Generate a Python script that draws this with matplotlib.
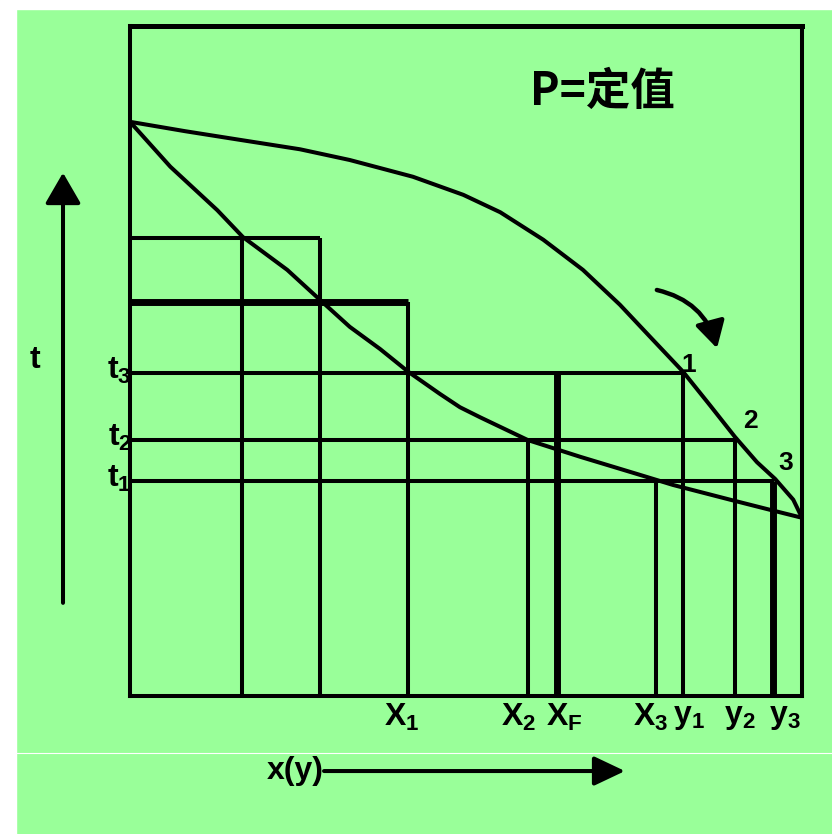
import matplotlib
matplotlib.use("Agg")
import matplotlib.pyplot as plt
from matplotlib.patches import Rectangle, FancyArrowPatch
from matplotlib.lines import Line2D

plt.rcParams['font.family'] = ['Liberation Sans', 'DejaVu Sans']
plt.rcParams['mathtext.default'] = 'regular'

GREEN = '#99ff99'
LW = 2.9        # normal stroke (pt)
LW_THICK = 5.0  # emphasised stroke

# liquid (bubble point) curve: x vs t
x_liq = [0.000, 0.060, 0.130, 0.168, 0.234, 0.283, 0.327, 0.372, 0.414,
         0.461, 0.491, 0.521, 0.592, 0.670, 0.759, 0.808, 0.893, 0.952, 1.000]
t_liq = [85.7, 79.0, 72.5, 68.5, 63.6, 59.1, 55.1, 51.8, 48.4,
         45.1, 43.1, 41.6, 38.2, 35.7, 33.0, 31.5, 29.3, 27.8, 26.6]

# vapour (dew point) curve: y vs t
x_vap = [0.000, 0.082, 0.164, 0.253, 0.327, 0.421, 0.496, 0.551, 0.615, 0.674,
         0.729, 0.774, 0.823, 0.863, 0.900, 0.933, 0.960, 0.987, 1.000]
t_vap = [85.7, 84.3, 83.0, 81.6, 80.0, 77.5, 74.8, 72.2, 68.1, 63.6,
         58.4, 53.6, 48.4, 43.4, 38.7, 34.9, 32.4, 29.3, 26.6]

# horizontal tie lines: temperature level and right end
h_levels = [68.4, 58.8, 48.2, 38.2, 32.1]
h_ends = [0.283, 0.414, 0.823, 0.900, 0.958]
h_thick = [False, True, False, False, False]

# vertical drop lines: composition and top
v_pos = [0.167, 0.283, 0.414, 0.592, 0.635, 0.783, 0.823, 0.900, 0.957]
v_tops = [68.4, 68.4, 58.8, 38.2, 48.2, 32.1, 48.2, 38.2, 32.1]
v_thick = [False, False, False, False, True, False, False, False, True]

# composition labels under the axis
comp_labels = ['$X_1$', '$X_2$', '$X_F$', '$X_3$', '$y_1$', '$y_2$', '$y_3$']
comp_pos = [0.404, 0.578, 0.646, 0.775, 0.832, 0.907, 0.974]

# temperature labels at the left
temp_labels = ['$t_3$', '$t_2$', '$t_1$']
temp_pos = [48.2, 38.2, 32.1]

# equilibrium point numbers on the dew curve
pt_labels = ['1', '2', '3']
pt_x = [0.832, 0.923, 0.976]
pt_t = [49.4, 41.0, 34.8]

fig = plt.figure(figsize=(8.32, 8.34), dpi=100, facecolor=GREEN)
fig.add_artist(Rectangle((0, 1 - 9 / 834), 1, 9 / 834, transform=fig.transFigure,
                         color='white', zorder=0))
fig.add_artist(Rectangle((0, 0), 16 / 832, 1, transform=fig.transFigure,
                         color='white', zorder=0))
fig.add_artist(Line2D([16 / 832, 1], [1 - 753 / 834] * 2, transform=fig.transFigure,
                      color='white', lw=0.8))

ax = fig.add_axes([130 / 832, 138 / 834, 672 / 832, 670 / 834])
ax.set_facecolor('none')
ax.set_xlim(0, 1)
ax.set_ylim(0, 100)
ax.set_xticks([])
ax.set_yticks([])
for side, sp in ax.spines.items():
    sp.set_linewidth(3.6 if side == 'top' else LW)
    sp.set_color('black')

ax.plot(x_liq, t_liq, color='black', lw=LW, solid_joinstyle='round')
ax.plot(x_vap, t_vap, color='black', lw=LW, solid_joinstyle='round')

for lvl, end, thick in zip(h_levels, h_ends, h_thick):
    ax.plot([0, end], [lvl, lvl], color='black', lw=LW_THICK if thick else LW,
            solid_capstyle='butt')
for xp, top, thick in zip(v_pos, v_tops, v_thick):
    ax.plot([xp, xp], [0, top], color='black', lw=LW_THICK if thick else LW,
            solid_capstyle='butt')

txt_kw = dict(color='black', fontweight='bold', clip_on=False)
for lab, xp in zip(comp_labels, comp_pos):
    ax.text(xp, -0.9, lab, ha='center', va='top', fontsize=23, **txt_kw)
for lab, tp in zip(temp_labels, temp_pos):
    ax.text(0.003, tp + 0.3, lab, ha='right', va='center', fontsize=23, **txt_kw)
for lab, xp, tp in zip(pt_labels, pt_x, pt_t):
    ax.text(xp, tp, lab, ha='center', va='center', fontsize=19, **txt_kw)

ax.text(-0.141, 50.2, 't', ha='center', va='center', fontsize=23, **txt_kw)
ax.text(0.595, 90.2, 'P=定值', ha='left', va='center', fontsize=32,
        family=['Noto Sans CJK SC', 'DejaVu Sans'], color='black',
        fontweight='bold')

# t axis arrow (left) and x(y) arrow (bottom)
ax.add_patch(FancyArrowPatch((-0.0997, 13.9), (-0.0997, 78.1),
                             arrowstyle='-|>,head_length=0.95,head_width=0.55',
                             mutation_scale=20, lw=LW, color='black',
                             shrinkA=0, shrinkB=0, clip_on=False))
ax.add_patch(FancyArrowPatch((0.2887, -11.2), (0.7366, -11.2),
                             arrowstyle='-|>,head_length=0.95,head_width=0.45',
                             mutation_scale=20, lw=LW, color='black',
                             shrinkA=0, shrinkB=0, clip_on=False))
ax.text(0.2887, -11.2, 'x(y)', ha='right', va='center', fontsize=23, **txt_kw)

# curved arrow showing the heating direction
ax.add_patch(FancyArrowPatch((0.784, 60.6), (0.8735, 51.9),
                             connectionstyle='arc3,rad=-0.3',
                             arrowstyle='-|>,head_length=0.8,head_width=0.45',
                             mutation_scale=20, lw=3.2, color='black',
                             shrinkA=0, shrinkB=0))

fig.savefig('out.png', dpi=100, facecolor=GREEN)
